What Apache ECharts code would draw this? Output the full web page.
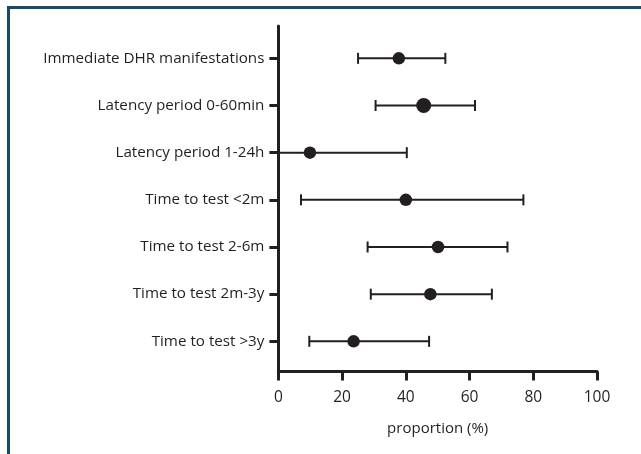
<!DOCTYPE html>
<html>
<head>
<meta charset="utf-8">
<script src="https://cdn.jsdelivr.net/npm/echarts@6/dist/echarts.min.js"></script>
<style>
html,body{margin:0;padding:0;background:#fff;}
#chart{width:641px;height:454px;}
</style>
</head>
<body>
<div id="chart"></div>
<script>
var categories = [
  "Immediate DHR manifestations",
  "Latency period 0-60min",
  "Latency period 1-24h",
  "Time to test <2m",
  "Time to test 2-6m",
  "Time to test 2m-3y",
  "Time to test >3y"
];
var proportion = [37.8, 45.6, 9.9, 40.0, 50.1, 47.7, 23.6];
var lowerCI = [25.0, 30.5, 0.0, 7.1, 28.0, 29.0, 9.7];
var upperCI = [52.4, 61.7, 40.3, 76.9, 71.9, 67.0, 47.3];
var xTicks = [0, 20, 40, 60, 80, 100];

var ink = '#231f20';
var font = 'Open Sans';
var catIdx = categories.map(function (c, i) { return i; });

var chart = echarts.init(document.getElementById('chart'), null, {renderer: 'canvas'});
chart.setOption({
  animation: false,
  backgroundColor: '#fff',
  graphic: [
    {type: 'line', shape: {x1: 7, y1: 7.5, x2: 641, y2: 7.5}, style: {stroke: '#1b4a66', lineWidth: 3}},
    {type: 'line', shape: {x1: 8.5, y1: 6, x2: 8.5, y2: 454}, style: {stroke: '#1b4a66', lineWidth: 3}}
  ],
  grid: {left: 278.4, right: 44, top: 26, bottom: 82.5, containLabel: false},
  xAxis: {
    type: 'value',
    min: xTicks[0],
    max: xTicks[xTicks.length - 1],
    interval: 20,
    name: 'proportion (%)',
    nameLocation: 'middle',
    nameGap: 50,
    nameTextStyle: {fontFamily: font, fontSize: 15, color: ink},
    axisLine: {show: true, onZero: false, lineStyle: {color: ink, width: 3}},
    axisTick: {show: true, length: 9, lineStyle: {color: ink, width: 3}},
    axisLabel: {fontFamily: font, fontSize: 15.5, color: ink, margin: 18},
    splitLine: {show: false}
  },
  yAxis: {
    type: 'value',
    inverse: true,
    min: -0.686,
    max: 6.64,
    axisLine: {show: true, onZero: false, lineStyle: {color: ink, width: 3}},
    axisTick: {show: true, length: 9, customValues: catIdx, lineStyle: {color: ink, width: 3}},
    axisLabel: {
      fontFamily: font, fontSize: 15.2, color: ink, margin: 14,
      customValues: catIdx,
      formatter: function (v) { return categories[Math.round(v)]; }
    },
    splitLine: {show: false}
  },
  series: [
    {
      type: 'custom',
      clip: false,
      data: categories.map(function (c, i) { return [lowerCI[i], upperCI[i], i]; }),
      renderItem: function (params, api) {
        var y = api.value(2);
        var p1 = api.coord([api.value(0), y]);
        var p2 = api.coord([api.value(1), y]);
        var h = 5.5;
        var st = {stroke: ink, lineWidth: 2};
        return {
          type: 'group',
          children: [
            {type: 'line', shape: {x1: p1[0], y1: p1[1], x2: p2[0], y2: p2[1]}, style: st},
            {type: 'line', shape: {x1: p1[0], y1: p1[1] - h, x2: p1[0], y2: p1[1] + h}, style: st},
            {type: 'line', shape: {x1: p2[0], y1: p2[1] - h, x2: p2[0], y2: p2[1] + h}, style: st}
          ]
        };
      }
    },
    {
      type: 'scatter',
      symbol: 'circle',
      symbolSize: function (v, p) { return p.dataIndex === 1 ? 15 : 12.5; },
      itemStyle: {color: ink, opacity: 1},
      data: categories.map(function (c, i) { return [proportion[i], i]; })
    }
  ]
});
</script>
</body>
</html>
